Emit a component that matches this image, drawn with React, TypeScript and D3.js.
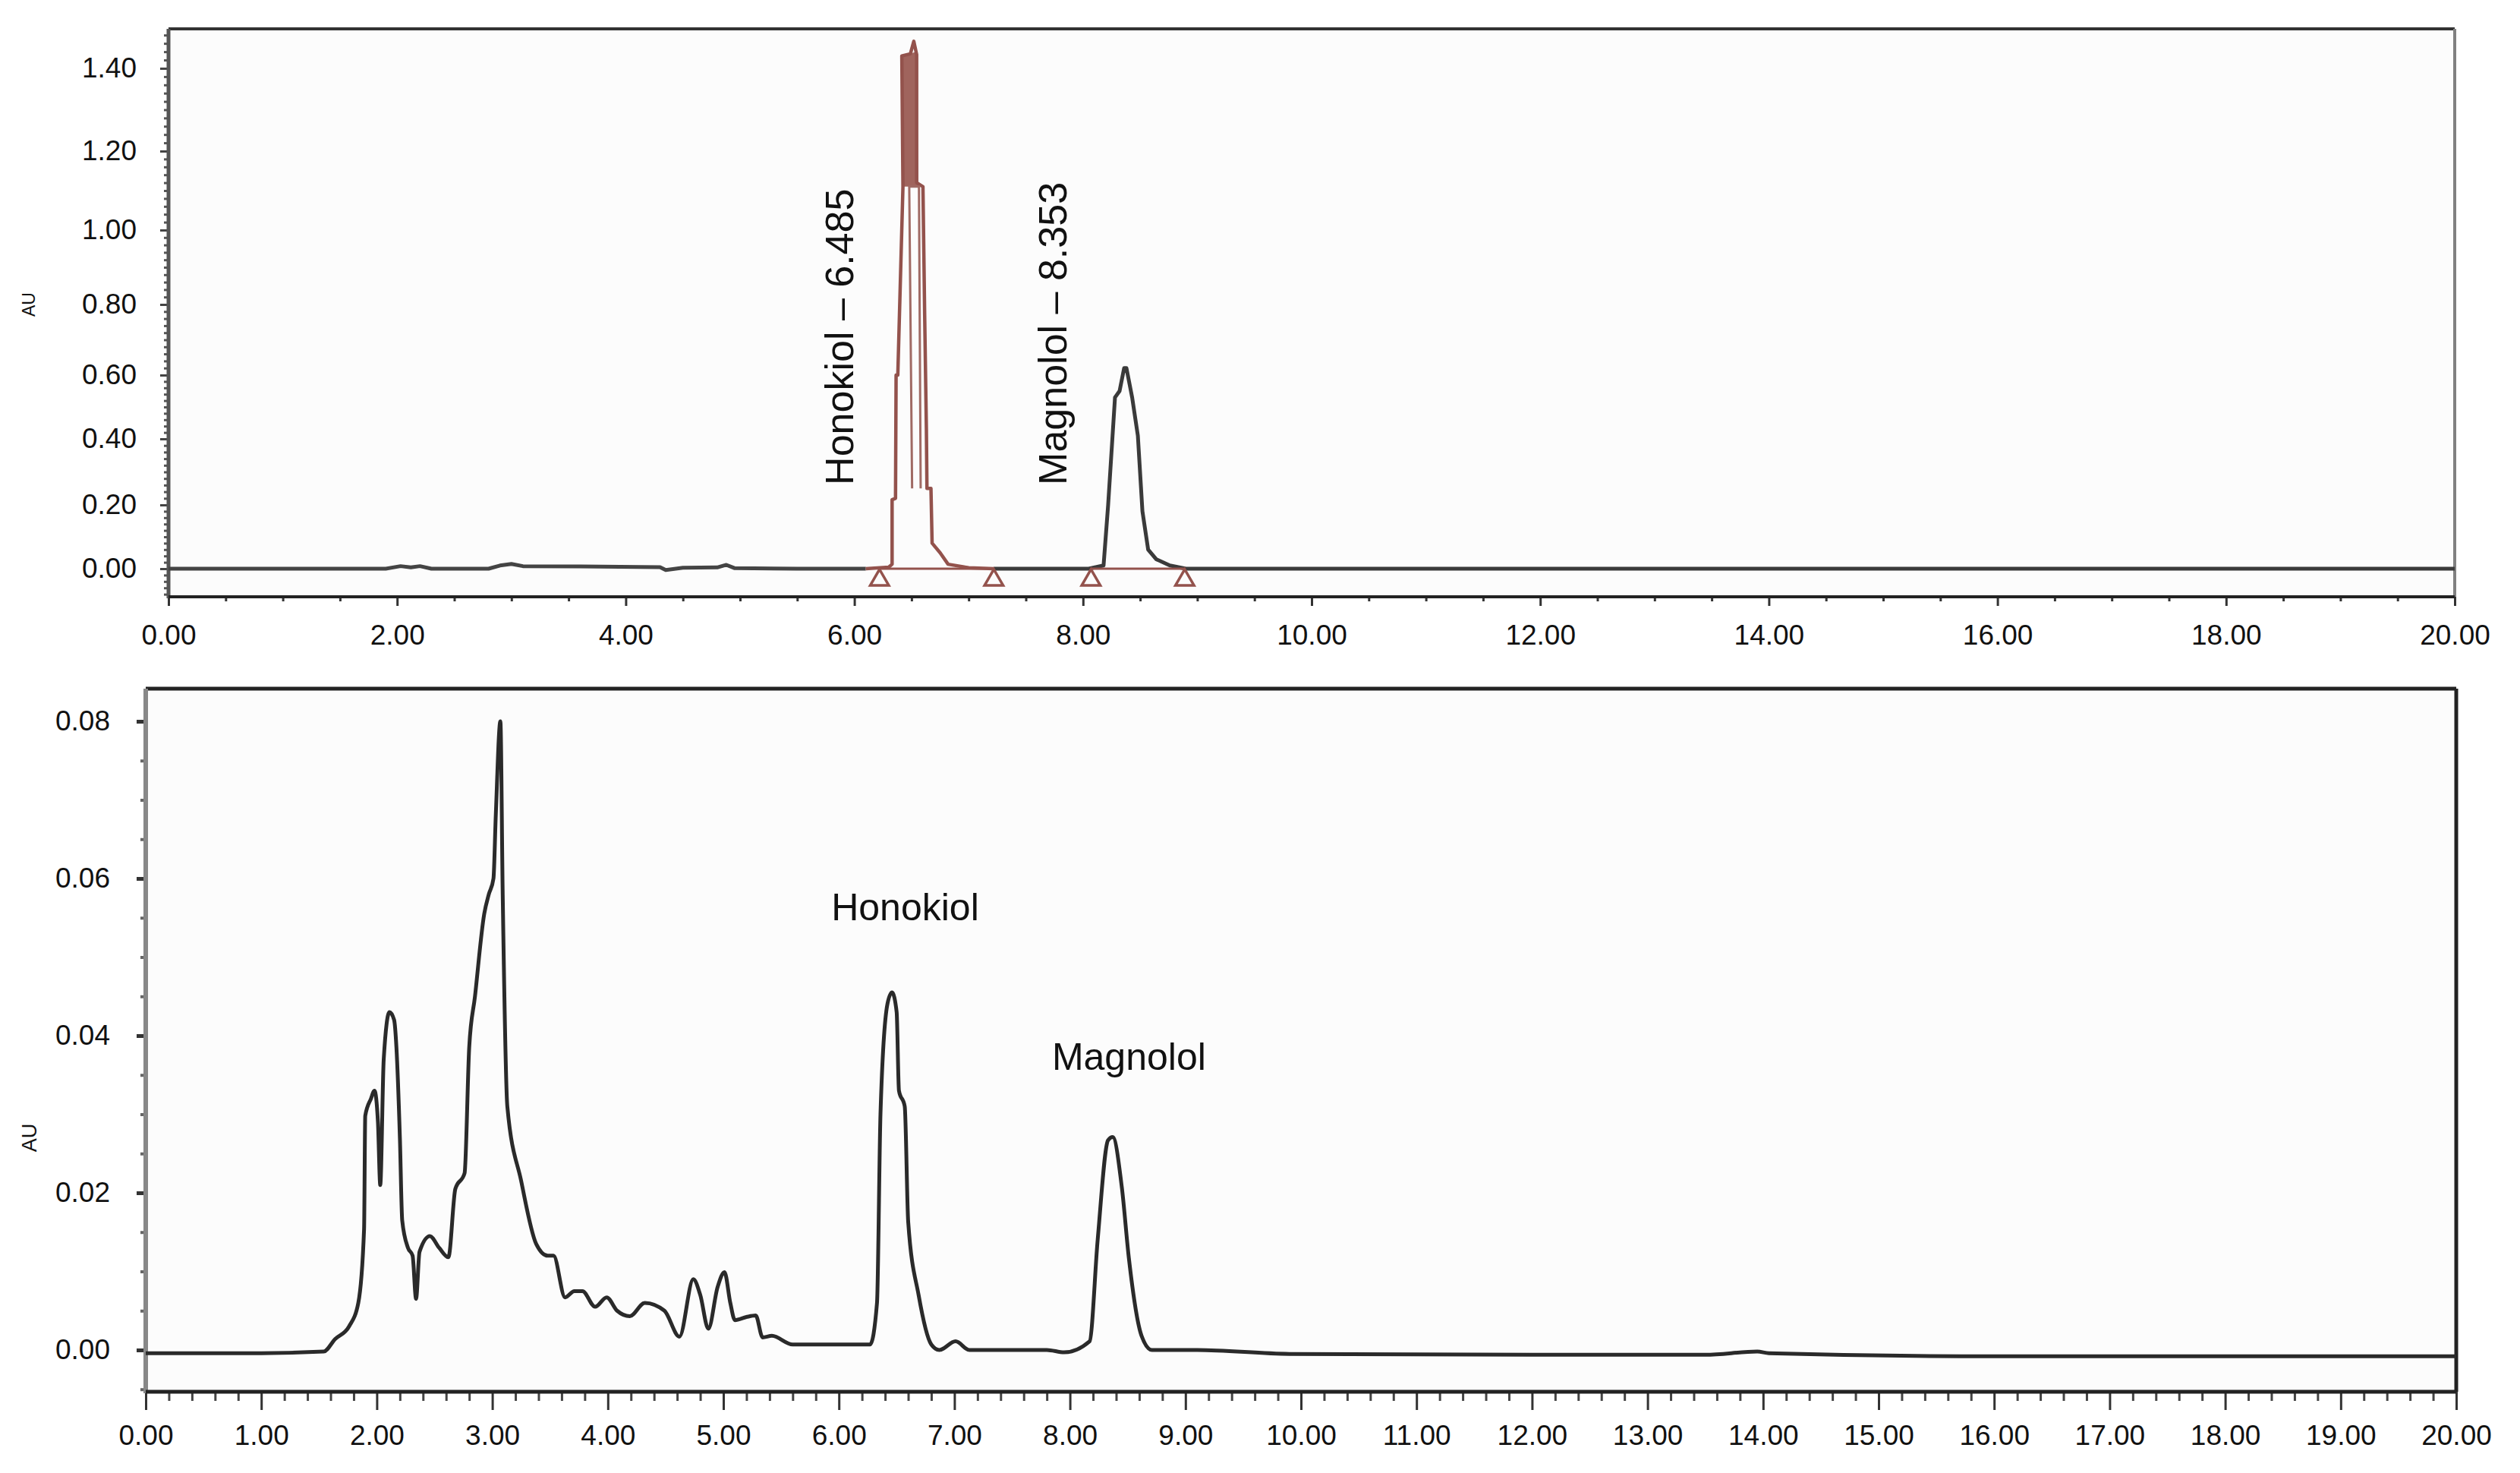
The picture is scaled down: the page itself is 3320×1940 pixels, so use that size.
import React, { useEffect, useRef } from 'react';
import * as d3 from 'd3';

type Pt = [number, number];

// ---- upper chromatogram (standard mix), time in min, absorbance in AU ----
const topBaseline: Pt[] = [
  [0, 0], [1.9, 0], [2.03, 0.008], [2.12, 0.004], [2.2, 0.008], [2.3, 0], [2.8, 0],
  [2.9, 0.01], [3.0, 0.015], [3.1, 0.008], [3.6, 0.007], [4.3, 0.005], [4.35, -0.004],
  [4.5, 0.003], [4.8, 0.004], [4.88, 0.012], [4.95, 0.002], [5.5, 0], [6.1, 0]
];
const topHonokiol: Pt[] = [
  [6.1, 0], [6.3, 0.005], [6.33, 0.014], [6.33, 0.216], [6.36, 0.22], [6.365, 0.6], [6.38, 0.6],
  [6.425, 1.11], [6.415, 1.43], [6.49, 1.435], [6.52, 1.465], [6.545, 1.433], [6.545, 1.12],
  [6.6, 1.11], [6.615, 0.77], [6.63, 0.43], [6.635, 0.25], [6.67, 0.25], [6.68, 0.08],
  [6.75, 0.05], [6.82, 0.014], [7.0, 0.003], [7.22, 0]
];
const topHonokiolInner: Pt[] = [[6.505, 0.25], [6.48, 1.11], [6.565, 1.11], [6.58, 0.25]];
const topHonokiolCore: Pt[] = [[6.43, 1.11], [6.425, 1.43], [6.545, 1.44], [6.56, 1.11]];
const topRest: Pt[] = [
  [7.22, 0], [8.05, 0], [8.18, 0.01], [8.22, 0.2], [8.28, 0.53], [8.32, 0.55], [8.36, 0.62],
  [8.38, 0.62], [8.43, 0.53], [8.48, 0.41], [8.52, 0.18], [8.57, 0.06], [8.64, 0.03],
  [8.76, 0.01], [8.9, 0], [20, 0]
];
const topIntegration: [number, number][] = [[6.22, 7.22], [8.07, 8.89]];
const topYTicks = [0, 0.2, 0.4, 0.6, 0.8, 1.0, 1.2, 1.4];
const topXTicks = [0, 2, 4, 6, 8, 10, 12, 14, 16, 18, 20];
const topPeakLabels = [
  { text: 'Honokiol \u2013 6.485', t: 6.485 },
  { text: 'Magnolol \u2013 8.353', t: 8.353 }
];

// ---- lower chromatogram (extract) ----
const bottomTrace: Pt[] = [
  [0, -0.0004], [1.0, -0.0004], [1.54, -0.0002], [1.64, 0.0014], [1.76, 0.003], [1.84, 0.006],
  [1.89, 0.0154], [1.9, 0.0298], [1.95, 0.032], [1.98, 0.033], [2.01, 0.029], [2.03, 0.021],
  [2.06, 0.037], [2.11, 0.043], [2.15, 0.042], [2.17, 0.0385], [2.2, 0.027], [2.22, 0.0165],
  [2.27, 0.013], [2.31, 0.012], [2.34, 0.0065], [2.37, 0.0125], [2.46, 0.0145], [2.54, 0.013],
  [2.62, 0.0118], [2.68, 0.0205], [2.76, 0.0225], [2.8, 0.0385], [2.85, 0.045], [2.93, 0.0555],
  [2.97, 0.058], [3.01, 0.06], [3.03, 0.068], [3.07, 0.08], [3.09, 0.058], [3.13, 0.031],
  [3.25, 0.0215], [3.38, 0.0135], [3.48, 0.012], [3.53, 0.012], [3.63, 0.0067], [3.71, 0.0075],
  [3.78, 0.0075], [3.89, 0.0055], [3.99, 0.0067], [4.08, 0.005], [4.19, 0.0043], [4.32, 0.006],
  [4.49, 0.005], [4.62, 0.0017], [4.74, 0.009], [4.8, 0.007], [4.87, 0.0027], [4.95, 0.008],
  [5.01, 0.0099], [5.06, 0.006], [5.1, 0.0038], [5.2, 0.0042], [5.28, 0.0044], [5.34, 0.0016],
  [5.42, 0.0018], [5.6, 0.0007], [6.0, 0.0007], [6.27, 0.0007], [6.33, 0.006], [6.36, 0.03],
  [6.42, 0.044], [6.46, 0.0455], [6.5, 0.043], [6.52, 0.033], [6.57, 0.031], [6.6, 0.0163],
  [6.69, 0.007], [6.8, 0.0007], [6.87, 0], [7.01, 0.0011], [7.13, 0], [7.8, 0], [7.95, -0.0003],
  [8.17, 0.0011], [8.24, 0.014], [8.33, 0.0267], [8.37, 0.0271], [8.45, 0.0206], [8.51, 0.0117],
  [8.62, 0.0018], [8.71, 0], [9.1, 0], [9.9, -0.0005], [12, -0.0006], [13.5, -0.0006],
  [13.95, -0.0002], [14.05, -0.0004], [16, -0.0008], [18, -0.0008], [20, -0.0008]
];
const bottomYTicks = [0, 0.02, 0.04, 0.06, 0.08];
const bottomXTicks = [0, 1, 2, 3, 4, 5, 6, 7, 8, 9, 10, 11, 12, 13, 14, 15, 16, 17, 18, 19, 20];
const bottomPeakLabels = [
  { text: 'Honokiol', t: 6.46, v: 0.0547 },
  { text: 'Magnolol', t: 8.37, v: 0.0357 }
];

const FONT = '"Liberation Sans", Arial, sans-serif';
const BROWN = '#93524c';

const App: React.FC = () => {
  const svgRef = useRef<SVGSVGElement>(null);

  useEffect(() => {
    if (!svgRef.current) return;
    const svg = d3.select(svgRef.current);
    svg.selectAll('*').remove();

    svg.append('rect').attr('width', 3320).attr('height', 1940).attr('fill', '#ffffff');

    const fmt = d3.format('.2f');
    const round = (v: number) => Math.round(v * 10000) / 10000;

    // ================= TOP PANEL =================
    const tp = { left: 222, right: 3234, top: 38, bottom: 786 };
    const xTop = d3.scaleLinear().domain([0, 20]).range([tp.left, tp.right]);
    // the printed axis is not evenly spaced, so the scale is piecewise
    const yTop = d3.scaleLinear()
      .domain([-0.088, 0, 0.2, 0.4, 0.6, 0.8, 1.0, 1.2, 1.4, 1.495])
      .range([tp.bottom, 749, 665, 578, 494, 401, 303, 199, 90, tp.top]);

    const top = svg.append('g');
    top.append('rect')
      .attr('x', tp.left).attr('y', tp.top)
      .attr('width', tp.right - tp.left).attr('height', tp.bottom - tp.top)
      .attr('fill', '#fcfcfc');

    // minor ticks
    const topYMinor = d3.range(0, 79).map(i => round(-0.08 + i * 0.02)).filter(v => !topYTicks.some(t => Math.abs(t - v) < 1e-6));
    top.append('g').attr('transform', `translate(${tp.left},0)`)
      .call(d3.axisLeft(yTop).tickValues(topYMinor).tickSize(6).tickFormat(() => ''))
      .call(g => g.select('.domain').remove())
      .selectAll('line').attr('stroke', '#555').attr('stroke-width', 3);
    const topY = top.append('g').attr('transform', `translate(${tp.left},0)`)
      .call(d3.axisLeft(yTop).tickValues(topYTicks).tickSize(11).tickPadding(31).tickFormat(d => fmt(d as number)))
      .call(g => g.select('.domain').remove());
    topY.selectAll('line').attr('stroke', '#444').attr('stroke-width', 3);
    topY.selectAll('text').attr('font-family', FONT).attr('font-size', 37).attr('fill', '#111');

    const topXMinor = d3.range(0, 41).map(i => i * 0.5).filter(v => v % 2 !== 0);
    top.append('g').attr('transform', `translate(0,${tp.bottom})`)
      .call(d3.axisBottom(xTop).tickValues(topXMinor).tickSize(6).tickFormat(() => ''))
      .call(g => g.select('.domain').remove())
      .selectAll('line').attr('stroke', '#333').attr('stroke-width', 3);
    const topX = top.append('g').attr('transform', `translate(0,${tp.bottom})`)
      .call(d3.axisBottom(xTop).tickValues(topXTicks).tickSize(12).tickPadding(25).tickFormat(d => fmt(d as number)))
      .call(g => g.select('.domain').remove());
    topX.selectAll('line').attr('stroke', '#333').attr('stroke-width', 3);
    topX.selectAll('text').attr('font-family', FONT).attr('font-size', 37).attr('fill', '#111');

    // frame
    top.append('line').attr('x1', tp.left).attr('x2', tp.right).attr('y1', tp.top).attr('y2', tp.top)
      .attr('stroke', '#333').attr('stroke-width', 4);
    top.append('line').attr('x1', tp.right).attr('x2', tp.right).attr('y1', tp.top).attr('y2', tp.bottom)
      .attr('stroke', '#808080').attr('stroke-width', 4);
    top.append('line').attr('x1', tp.left).attr('x2', tp.left).attr('y1', tp.top).attr('y2', tp.bottom + 2)
      .attr('stroke', '#555').attr('stroke-width', 5);
    top.append('line').attr('x1', tp.left).attr('x2', tp.right).attr('y1', tp.bottom).attr('y2', tp.bottom)
      .attr('stroke', '#222').attr('stroke-width', 4);

    top.append('text')
      .attr('transform', `translate(46,${yTop(0.8)}) rotate(-90)`)
      .attr('text-anchor', 'middle')
      .attr('font-family', FONT).attr('font-size', 23).attr('fill', '#111')
      .text('AU');

    const lineTop = d3.line<Pt>().x(d => xTop(d[0])).y(d => yTop(d[1]));

    top.append('path').attr('d', lineTop(topBaseline) || '')
      .attr('fill', 'none').attr('stroke', '#444').attr('stroke-width', 5).attr('stroke-linejoin', 'round');
    top.append('path').attr('d', lineTop(topRest) || '')
      .attr('fill', 'none').attr('stroke', '#3a3a3a').attr('stroke-width', 5).attr('stroke-linejoin', 'round');

    // integration baselines and drop markers
    topIntegration.forEach(([a, b]) => {
      top.append('line')
        .attr('x1', xTop(a)).attr('x2', xTop(b)).attr('y1', yTop(0)).attr('y2', yTop(0))
        .attr('stroke', BROWN).attr('stroke-width', 3);
      [a, b].forEach(t => {
        top.append('path')
          .attr('d', d3.symbol().type(d3.symbolTriangle).size(260)() || '')
          .attr('transform', `translate(${xTop(t)},${yTop(0) + 15})`)
          .attr('fill', 'none').attr('stroke', BROWN).attr('stroke-width', 3.5);
      });
    });

    top.append('path').attr('d', (lineTop(topHonokiolCore) || '') + 'Z')
      .attr('fill', '#a0645d').attr('stroke', 'none');
    top.append('path').attr('d', lineTop(topHonokiol) || '')
      .attr('fill', 'none').attr('stroke', BROWN).attr('stroke-width', 4.5).attr('stroke-linejoin', 'round');
    top.append('path').attr('d', lineTop(topHonokiolInner) || '')
      .attr('fill', 'none').attr('stroke', '#a06a64').attr('stroke-width', 3);

    topPeakLabels.forEach(l => {
      top.append('text')
        .attr('transform', `translate(${xTop(l.t) - 75},${yTop(0.26)}) rotate(-90)`)
        .attr('font-family', FONT).attr('font-size', 52).attr('fill', '#111')
        .text(l.text);
    });

    // ================= BOTTOM PANEL =================
    const bp = { left: 192, right: 3236, top: 907, bottom: 1833 };
    const xBot = d3.scaleLinear().domain([0, 20]).range([bp.left, bp.right]);
    const yBot = d3.scaleLinear().domain([0, 0.08]).range([1778, 950]);

    const bot = svg.append('g');
    bot.append('rect')
      .attr('x', bp.left).attr('y', bp.top)
      .attr('width', bp.right - bp.left).attr('height', bp.bottom - bp.top)
      .attr('fill', '#fcfcfc');

    const botYMinor = d3.range(0, 18).map(i => round(-0.005 + i * 0.005)).filter(v => !bottomYTicks.some(t => Math.abs(t - v) < 1e-6));
    bot.append('g').attr('transform', `translate(${bp.left},0)`)
      .call(d3.axisLeft(yBot).tickValues(botYMinor).tickSize(7).tickFormat(() => ''))
      .call(g => g.select('.domain').remove())
      .selectAll('line').attr('stroke', '#666').attr('stroke-width', 4);
    const botY = bot.append('g').attr('transform', `translate(${bp.left},0)`)
      .call(d3.axisLeft(yBot).tickValues(bottomYTicks).tickSize(12).tickPadding(35).tickFormat(d => fmt(d as number)))
      .call(g => g.select('.domain').remove());
    botY.selectAll('line').attr('stroke', '#333').attr('stroke-width', 5);
    botY.selectAll('text').attr('font-family', FONT).attr('font-size', 37).attr('fill', '#111');

    const botXMinor = d3.range(0, 101).map(i => round(i * 0.2)).filter(v => Math.abs(v - Math.round(v)) > 1e-6);
    bot.append('g').attr('transform', `translate(0,${bp.bottom})`)
      .call(d3.axisBottom(xBot).tickValues(botXMinor).tickSize(12).tickFormat(() => ''))
      .call(g => g.select('.domain').remove())
      .selectAll('line').attr('stroke', '#444').attr('stroke-width', 3);
    const botX = bot.append('g').attr('transform', `translate(0,${bp.bottom})`)
      .call(d3.axisBottom(xBot).tickValues(bottomXTicks).tickSize(24).tickPadding(20).tickFormat(d => fmt(d as number)))
      .call(g => g.select('.domain').remove());
    botX.selectAll('line').attr('stroke', '#333').attr('stroke-width', 3);
    botX.selectAll('text').attr('font-family', FONT).attr('font-size', 37).attr('fill', '#111');

    bot.append('line').attr('x1', bp.left).attr('x2', bp.right).attr('y1', bp.top).attr('y2', bp.top)
      .attr('stroke', '#222').attr('stroke-width', 5);
    bot.append('line').attr('x1', bp.right).attr('x2', bp.right).attr('y1', bp.top).attr('y2', bp.bottom)
      .attr('stroke', '#222').attr('stroke-width', 5);
    bot.append('line').attr('x1', bp.left).attr('x2', bp.left).attr('y1', bp.top).attr('y2', bp.bottom + 2)
      .attr('stroke', '#888').attr('stroke-width', 6);
    bot.append('line').attr('x1', bp.left).attr('x2', bp.right).attr('y1', bp.bottom).attr('y2', bp.bottom)
      .attr('stroke', '#222').attr('stroke-width', 5);

    bot.append('text')
      .attr('transform', `translate(48,${yBot(0.027)}) rotate(-90)`)
      .attr('text-anchor', 'middle')
      .attr('font-family', FONT).attr('font-size', 27).attr('fill', '#111')
      .text('AU');

    const lineBot = d3.line<Pt>().x(d => xBot(d[0])).y(d => yBot(d[1])).curve(d3.curveMonotoneX);
    bot.append('path').attr('d', lineBot(bottomTrace) || '')
      .attr('fill', 'none').attr('stroke', '#2a2a2a').attr('stroke-width', 5).attr('stroke-linejoin', 'round');

    bottomPeakLabels.forEach(l => {
      bot.append('text')
        .attr('x', xBot(l.t) - 80).attr('y', yBot(l.v))
        .attr('font-family', FONT).attr('font-size', 50).attr('fill', '#111')
        .text(l.text);
    });
  }, []);

  return (
    <svg
      ref={svgRef}
      width={3320}
      height={1940}
      style={{ position: 'absolute', left: 0, top: 0, display: 'block' }}
    />
  );
};

export default App;
